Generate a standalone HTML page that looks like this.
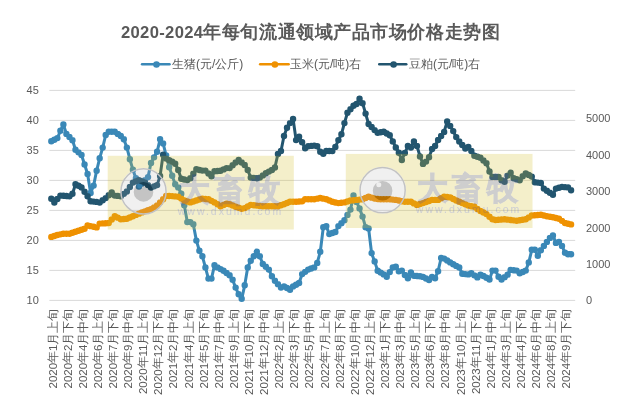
<!DOCTYPE html>
<html><head><meta charset="utf-8"><style>
html,body{margin:0;padding:0;background:#fff;width:634px;height:403px;overflow:hidden}
svg{display:block;font-family:"Liberation Sans",sans-serif}
</style></head><body>
<svg width="634" height="403" viewBox="0 0 634 403">
<rect width="634" height="403" fill="#fff"/>
<text x="121" y="37.8" font-weight="bold" fill="#595959" font-size="16.6" letter-spacing="0.33">2020-2024</text><text x="203.3" y="38" letter-spacing="0.56" font-weight="600" fill="#595959" font-size="18">年每旬流通领域产品市场价格走势图</text>
<g stroke="#d9d9d9" stroke-width="1"><line x1="49.4" x2="575.2" y1="300.4" y2="300.4"/><line x1="49.4" x2="575.2" y1="270.4" y2="270.4"/><line x1="49.4" x2="575.2" y1="240.4" y2="240.4"/><line x1="49.4" x2="575.2" y1="210.4" y2="210.4"/><line x1="49.4" x2="575.2" y1="180.4" y2="180.4"/><line x1="49.4" x2="575.2" y1="150.4" y2="150.4"/><line x1="49.4" x2="575.2" y1="120.4" y2="120.4"/><line x1="49.4" x2="575.2" y1="90.4" y2="90.4"/></g>
<g font-size="11" fill="#595959"><text x="38.8" y="300.5" dy="0.36em" text-anchor="end">10</text><text x="38.8" y="270.5" dy="0.36em" text-anchor="end">15</text><text x="38.8" y="240.5" dy="0.36em" text-anchor="end">20</text><text x="38.8" y="210.5" dy="0.36em" text-anchor="end">25</text><text x="38.8" y="180.5" dy="0.36em" text-anchor="end">30</text><text x="38.8" y="150.5" dy="0.36em" text-anchor="end">35</text><text x="38.8" y="120.5" dy="0.36em" text-anchor="end">40</text><text x="38.8" y="90.5" dy="0.36em" text-anchor="end">45</text><text x="586" y="300.5" dy="0.36em">0</text><text x="586" y="264.1" dy="0.36em">1000</text><text x="586" y="227.7" dy="0.36em">2000</text><text x="586" y="191.2" dy="0.36em">3000</text><text x="586" y="154.8" dy="0.36em">4000</text><text x="586" y="118.4" dy="0.36em">5000</text></g>
<g font-size="11.5" fill="#595959"><text transform="translate(52.5,308.5) rotate(-90)" text-anchor="end" dy="0.35em">2020年1月上旬</text><text transform="translate(67.6,308.5) rotate(-90)" text-anchor="end" dy="0.35em">2020年2月下旬</text><text transform="translate(82.7,308.5) rotate(-90)" text-anchor="end" dy="0.35em">2020年4月中旬</text><text transform="translate(97.8,308.5) rotate(-90)" text-anchor="end" dy="0.35em">2020年6月上旬</text><text transform="translate(112.9,308.5) rotate(-90)" text-anchor="end" dy="0.35em">2020年7月下旬</text><text transform="translate(128.1,308.5) rotate(-90)" text-anchor="end" dy="0.35em">2020年9月中旬</text><text transform="translate(143.2,308.5) rotate(-90)" text-anchor="end" dy="0.35em">2020年11月上旬</text><text transform="translate(158.3,308.5) rotate(-90)" text-anchor="end" dy="0.35em">2020年12月下旬</text><text transform="translate(173.4,308.5) rotate(-90)" text-anchor="end" dy="0.35em">2021年2月中旬</text><text transform="translate(188.5,308.5) rotate(-90)" text-anchor="end" dy="0.35em">2021年4月上旬</text><text transform="translate(203.6,308.5) rotate(-90)" text-anchor="end" dy="0.35em">2021年5月下旬</text><text transform="translate(218.7,308.5) rotate(-90)" text-anchor="end" dy="0.35em">2021年7月中旬</text><text transform="translate(233.8,308.5) rotate(-90)" text-anchor="end" dy="0.35em">2021年9月上旬</text><text transform="translate(248.9,308.5) rotate(-90)" text-anchor="end" dy="0.35em">2021年10月下旬</text><text transform="translate(264.0,308.5) rotate(-90)" text-anchor="end" dy="0.35em">2021年12月中旬</text><text transform="translate(279.1,308.5) rotate(-90)" text-anchor="end" dy="0.35em">2022年2月上旬</text><text transform="translate(294.3,308.5) rotate(-90)" text-anchor="end" dy="0.35em">2022年3月下旬</text><text transform="translate(309.4,308.5) rotate(-90)" text-anchor="end" dy="0.35em">2022年5月中旬</text><text transform="translate(324.5,308.5) rotate(-90)" text-anchor="end" dy="0.35em">2022年7月上旬</text><text transform="translate(339.6,308.5) rotate(-90)" text-anchor="end" dy="0.35em">2022年8月下旬</text><text transform="translate(354.7,308.5) rotate(-90)" text-anchor="end" dy="0.35em">2022年10月中旬</text><text transform="translate(369.8,308.5) rotate(-90)" text-anchor="end" dy="0.35em">2022年12月上旬</text><text transform="translate(384.9,308.5) rotate(-90)" text-anchor="end" dy="0.35em">2023年1月下旬</text><text transform="translate(400.0,308.5) rotate(-90)" text-anchor="end" dy="0.35em">2023年3月中旬</text><text transform="translate(415.1,308.5) rotate(-90)" text-anchor="end" dy="0.35em">2023年5月上旬</text><text transform="translate(430.2,308.5) rotate(-90)" text-anchor="end" dy="0.35em">2023年6月下旬</text><text transform="translate(445.4,308.5) rotate(-90)" text-anchor="end" dy="0.35em">2023年8月中旬</text><text transform="translate(460.5,308.5) rotate(-90)" text-anchor="end" dy="0.35em">2023年10月上旬</text><text transform="translate(475.6,308.5) rotate(-90)" text-anchor="end" dy="0.35em">2023年11月下旬</text><text transform="translate(490.7,308.5) rotate(-90)" text-anchor="end" dy="0.35em">2024年1月中旬</text><text transform="translate(505.8,308.5) rotate(-90)" text-anchor="end" dy="0.35em">2024年3月上旬</text><text transform="translate(520.9,308.5) rotate(-90)" text-anchor="end" dy="0.35em">2024年4月下旬</text><text transform="translate(536.0,308.5) rotate(-90)" text-anchor="end" dy="0.35em">2024年6月中旬</text><text transform="translate(551.1,308.5) rotate(-90)" text-anchor="end" dy="0.35em">2024年8月上旬</text><text transform="translate(566.2,308.5) rotate(-90)" text-anchor="end" dy="0.35em">2024年9月下旬</text></g>
<g font-size="12" fill="#595959">
<line x1="142.1" x2="169.5" y1="64.2" y2="64.2" stroke="#3a88b7" stroke-width="2.6" stroke-linecap="round"/><circle cx="156.5" cy="64.5" r="3.3" fill="#3a88b7"/>
<text x="172" y="64" dy="0.36em">生猪(元/公斤)</text>
<line x1="260.2" x2="288.6" y1="64.2" y2="64.2" stroke="#ef9100" stroke-width="2.6" stroke-linecap="round"/><circle cx="274.9" cy="64.5" r="3.3" fill="#ef9100"/>
<text x="290" y="64" dy="0.36em">玉米(元/吨)右</text>
<line x1="379.3" x2="406.2" y1="64.2" y2="64.2" stroke="#22556f" stroke-width="2.6" stroke-linecap="round"/><circle cx="393.6" cy="64.5" r="3.3" fill="#22556f"/>
<text x="409" y="64" dy="0.36em">豆粕(元/吨)右</text>
</g>
<path d="M51.3,141.3 L54.3,139.7 L57.4,138.1 L60.4,130.8 L63.4,124.4 L66.4,133.9 L69.4,137.1 L72.5,140.2 L75.5,149.7 L78.5,152.3 L81.5,155.0 L84.6,164.5 L87.6,174.0 L90.6,193.0 L93.6,185.6 L96.6,170.8 L99.7,158.2 L102.7,147.6 L105.7,135.0 L108.7,131.8 L111.7,131.8 L114.8,131.8 L117.8,133.9 L120.8,136.0 L123.8,139.2 L126.9,147.6 L129.9,159.2 L132.9,169.8 L135.9,178.2 L138.9,186.6 L142.0,183.4 L145.0,180.3 L148.0,177.1 L151.0,162.9 L154.1,157.3 L157.1,151.8 L160.1,139.2 L163.1,143.4 L166.1,155.4 L169.2,167.3 L172.2,175.8 L175.2,184.2 L178.2,187.4 L181.3,193.7 L184.3,205.3 L187.3,222.1 L190.3,222.1 L193.3,224.3 L196.4,240.6 L199.4,250.7 L202.4,256.3 L205.4,267.4 L208.4,278.6 L211.5,278.6 L214.5,265.2 L217.5,267.4 L220.5,269.1 L223.6,270.8 L226.6,273.1 L229.6,275.3 L232.6,279.7 L235.6,287.6 L238.7,294.3 L241.7,298.8 L244.7,285.3 L247.7,267.4 L250.8,260.7 L253.8,256.2 L256.8,251.8 L259.8,256.2 L262.8,264.0 L265.9,266.8 L268.9,269.6 L271.9,276.3 L274.9,280.8 L277.9,284.1 L281.0,287.5 L284.0,286.4 L287.0,288.0 L290.0,289.7 L293.1,286.4 L296.1,284.7 L299.1,283.0 L302.1,274.1 L305.1,271.9 L308.2,269.6 L311.2,268.5 L314.2,267.4 L317.2,262.9 L320.3,251.8 L323.3,227.2 L326.3,226.1 L329.3,234.1 L332.3,233.1 L335.4,232.0 L338.4,226.1 L341.4,223.1 L344.4,220.2 L347.5,214.9 L350.5,209.6 L353.5,195.4 L356.5,201.9 L359.5,208.4 L362.6,216.6 L365.6,227.2 L368.6,228.4 L371.6,253.2 L374.6,261.4 L377.7,270.8 L380.7,272.6 L383.7,274.4 L386.7,276.7 L389.8,272.1 L392.8,267.5 L395.8,266.8 L398.8,271.2 L401.8,270.6 L404.9,275.0 L407.9,278.2 L410.9,272.5 L413.9,275.7 L417.0,276.0 L420.0,276.3 L423.0,276.9 L426.0,278.5 L429.0,280.1 L432.1,276.9 L435.1,278.2 L438.1,271.2 L441.1,258.0 L444.1,258.6 L447.2,260.5 L450.2,262.4 L453.2,264.3 L456.2,265.9 L459.3,267.5 L462.3,273.8 L465.3,274.1 L468.3,274.4 L471.3,273.3 L474.4,275.4 L477.4,277.4 L480.4,274.7 L483.4,276.0 L486.5,277.8 L489.5,279.5 L492.5,270.6 L495.5,270.6 L498.5,276.7 L501.6,279.5 L504.6,277.1 L507.6,274.7 L510.6,269.9 L513.7,270.2 L516.7,270.6 L519.7,273.3 L522.7,272.0 L525.7,270.6 L528.8,262.4 L531.8,249.8 L534.8,249.8 L537.8,255.8 L540.8,250.3 L543.9,245.9 L546.9,241.9 L549.9,237.9 L552.9,235.4 L556.0,242.9 L559.0,241.9 L562.0,245.9 L565.0,252.8 L568.0,254.3 L571.1,254.3" fill="none" stroke="#3a88b7" stroke-width="3.0" stroke-linejoin="round"/><path d="M48.11,141.30a3.2,3.2 0 1,0 6.4,0a3.2,3.2 0 1,0 -6.4,0M51.13,139.70a3.2,3.2 0 1,0 6.4,0a3.2,3.2 0 1,0 -6.4,0M54.15,138.10a3.2,3.2 0 1,0 6.4,0a3.2,3.2 0 1,0 -6.4,0M57.18,130.80a3.2,3.2 0 1,0 6.4,0a3.2,3.2 0 1,0 -6.4,0M60.20,124.40a3.2,3.2 0 1,0 6.4,0a3.2,3.2 0 1,0 -6.4,0M63.22,133.90a3.2,3.2 0 1,0 6.4,0a3.2,3.2 0 1,0 -6.4,0M66.24,137.05a3.2,3.2 0 1,0 6.4,0a3.2,3.2 0 1,0 -6.4,0M69.26,140.20a3.2,3.2 0 1,0 6.4,0a3.2,3.2 0 1,0 -6.4,0M72.29,149.70a3.2,3.2 0 1,0 6.4,0a3.2,3.2 0 1,0 -6.4,0M75.31,152.35a3.2,3.2 0 1,0 6.4,0a3.2,3.2 0 1,0 -6.4,0M78.33,155.00a3.2,3.2 0 1,0 6.4,0a3.2,3.2 0 1,0 -6.4,0M81.35,164.50a3.2,3.2 0 1,0 6.4,0a3.2,3.2 0 1,0 -6.4,0M84.37,174.00a3.2,3.2 0 1,0 6.4,0a3.2,3.2 0 1,0 -6.4,0M87.39,193.00a3.2,3.2 0 1,0 6.4,0a3.2,3.2 0 1,0 -6.4,0M90.42,185.60a3.2,3.2 0 1,0 6.4,0a3.2,3.2 0 1,0 -6.4,0M93.44,170.80a3.2,3.2 0 1,0 6.4,0a3.2,3.2 0 1,0 -6.4,0M96.46,158.20a3.2,3.2 0 1,0 6.4,0a3.2,3.2 0 1,0 -6.4,0M99.48,147.60a3.2,3.2 0 1,0 6.4,0a3.2,3.2 0 1,0 -6.4,0M102.50,135.00a3.2,3.2 0 1,0 6.4,0a3.2,3.2 0 1,0 -6.4,0M105.53,131.80a3.2,3.2 0 1,0 6.4,0a3.2,3.2 0 1,0 -6.4,0M108.55,131.80a3.2,3.2 0 1,0 6.4,0a3.2,3.2 0 1,0 -6.4,0M111.57,131.80a3.2,3.2 0 1,0 6.4,0a3.2,3.2 0 1,0 -6.4,0M114.59,133.90a3.2,3.2 0 1,0 6.4,0a3.2,3.2 0 1,0 -6.4,0M117.61,136.00a3.2,3.2 0 1,0 6.4,0a3.2,3.2 0 1,0 -6.4,0M120.64,139.20a3.2,3.2 0 1,0 6.4,0a3.2,3.2 0 1,0 -6.4,0M123.66,147.60a3.2,3.2 0 1,0 6.4,0a3.2,3.2 0 1,0 -6.4,0M126.68,159.20a3.2,3.2 0 1,0 6.4,0a3.2,3.2 0 1,0 -6.4,0M129.70,169.80a3.2,3.2 0 1,0 6.4,0a3.2,3.2 0 1,0 -6.4,0M132.72,178.20a3.2,3.2 0 1,0 6.4,0a3.2,3.2 0 1,0 -6.4,0M135.74,186.60a3.2,3.2 0 1,0 6.4,0a3.2,3.2 0 1,0 -6.4,0M138.77,183.43a3.2,3.2 0 1,0 6.4,0a3.2,3.2 0 1,0 -6.4,0M141.79,180.27a3.2,3.2 0 1,0 6.4,0a3.2,3.2 0 1,0 -6.4,0M144.81,177.10a3.2,3.2 0 1,0 6.4,0a3.2,3.2 0 1,0 -6.4,0M147.83,162.90a3.2,3.2 0 1,0 6.4,0a3.2,3.2 0 1,0 -6.4,0M150.85,157.35a3.2,3.2 0 1,0 6.4,0a3.2,3.2 0 1,0 -6.4,0M153.88,151.80a3.2,3.2 0 1,0 6.4,0a3.2,3.2 0 1,0 -6.4,0M156.90,139.20a3.2,3.2 0 1,0 6.4,0a3.2,3.2 0 1,0 -6.4,0M159.92,143.40a3.2,3.2 0 1,0 6.4,0a3.2,3.2 0 1,0 -6.4,0M162.94,155.35a3.2,3.2 0 1,0 6.4,0a3.2,3.2 0 1,0 -6.4,0M165.96,167.30a3.2,3.2 0 1,0 6.4,0a3.2,3.2 0 1,0 -6.4,0M168.98,175.80a3.2,3.2 0 1,0 6.4,0a3.2,3.2 0 1,0 -6.4,0M172.01,184.20a3.2,3.2 0 1,0 6.4,0a3.2,3.2 0 1,0 -6.4,0M175.03,187.40a3.2,3.2 0 1,0 6.4,0a3.2,3.2 0 1,0 -6.4,0M178.05,193.70a3.2,3.2 0 1,0 6.4,0a3.2,3.2 0 1,0 -6.4,0M181.07,205.30a3.2,3.2 0 1,0 6.4,0a3.2,3.2 0 1,0 -6.4,0M184.09,222.10a3.2,3.2 0 1,0 6.4,0a3.2,3.2 0 1,0 -6.4,0M187.12,222.10a3.2,3.2 0 1,0 6.4,0a3.2,3.2 0 1,0 -6.4,0M190.14,224.30a3.2,3.2 0 1,0 6.4,0a3.2,3.2 0 1,0 -6.4,0M193.16,240.60a3.2,3.2 0 1,0 6.4,0a3.2,3.2 0 1,0 -6.4,0M196.18,250.70a3.2,3.2 0 1,0 6.4,0a3.2,3.2 0 1,0 -6.4,0M199.20,256.30a3.2,3.2 0 1,0 6.4,0a3.2,3.2 0 1,0 -6.4,0M202.22,267.40a3.2,3.2 0 1,0 6.4,0a3.2,3.2 0 1,0 -6.4,0M205.25,278.60a3.2,3.2 0 1,0 6.4,0a3.2,3.2 0 1,0 -6.4,0M208.27,278.60a3.2,3.2 0 1,0 6.4,0a3.2,3.2 0 1,0 -6.4,0M211.29,265.20a3.2,3.2 0 1,0 6.4,0a3.2,3.2 0 1,0 -6.4,0M214.31,267.40a3.2,3.2 0 1,0 6.4,0a3.2,3.2 0 1,0 -6.4,0M217.33,269.10a3.2,3.2 0 1,0 6.4,0a3.2,3.2 0 1,0 -6.4,0M220.36,270.80a3.2,3.2 0 1,0 6.4,0a3.2,3.2 0 1,0 -6.4,0M223.38,273.05a3.2,3.2 0 1,0 6.4,0a3.2,3.2 0 1,0 -6.4,0M226.40,275.30a3.2,3.2 0 1,0 6.4,0a3.2,3.2 0 1,0 -6.4,0M229.42,279.70a3.2,3.2 0 1,0 6.4,0a3.2,3.2 0 1,0 -6.4,0M232.44,287.60a3.2,3.2 0 1,0 6.4,0a3.2,3.2 0 1,0 -6.4,0M235.46,294.30a3.2,3.2 0 1,0 6.4,0a3.2,3.2 0 1,0 -6.4,0M238.49,298.80a3.2,3.2 0 1,0 6.4,0a3.2,3.2 0 1,0 -6.4,0M241.51,285.30a3.2,3.2 0 1,0 6.4,0a3.2,3.2 0 1,0 -6.4,0M244.53,267.40a3.2,3.2 0 1,0 6.4,0a3.2,3.2 0 1,0 -6.4,0M247.55,260.70a3.2,3.2 0 1,0 6.4,0a3.2,3.2 0 1,0 -6.4,0M250.57,256.25a3.2,3.2 0 1,0 6.4,0a3.2,3.2 0 1,0 -6.4,0M253.60,251.80a3.2,3.2 0 1,0 6.4,0a3.2,3.2 0 1,0 -6.4,0M256.62,256.20a3.2,3.2 0 1,0 6.4,0a3.2,3.2 0 1,0 -6.4,0M259.64,264.00a3.2,3.2 0 1,0 6.4,0a3.2,3.2 0 1,0 -6.4,0M262.66,266.80a3.2,3.2 0 1,0 6.4,0a3.2,3.2 0 1,0 -6.4,0M265.68,269.60a3.2,3.2 0 1,0 6.4,0a3.2,3.2 0 1,0 -6.4,0M268.71,276.30a3.2,3.2 0 1,0 6.4,0a3.2,3.2 0 1,0 -6.4,0M271.73,280.80a3.2,3.2 0 1,0 6.4,0a3.2,3.2 0 1,0 -6.4,0M274.75,284.15a3.2,3.2 0 1,0 6.4,0a3.2,3.2 0 1,0 -6.4,0M277.77,287.50a3.2,3.2 0 1,0 6.4,0a3.2,3.2 0 1,0 -6.4,0M280.79,286.40a3.2,3.2 0 1,0 6.4,0a3.2,3.2 0 1,0 -6.4,0M283.81,288.05a3.2,3.2 0 1,0 6.4,0a3.2,3.2 0 1,0 -6.4,0M286.84,289.70a3.2,3.2 0 1,0 6.4,0a3.2,3.2 0 1,0 -6.4,0M289.86,286.40a3.2,3.2 0 1,0 6.4,0a3.2,3.2 0 1,0 -6.4,0M292.88,284.70a3.2,3.2 0 1,0 6.4,0a3.2,3.2 0 1,0 -6.4,0M295.90,283.00a3.2,3.2 0 1,0 6.4,0a3.2,3.2 0 1,0 -6.4,0M298.92,274.10a3.2,3.2 0 1,0 6.4,0a3.2,3.2 0 1,0 -6.4,0M301.95,271.85a3.2,3.2 0 1,0 6.4,0a3.2,3.2 0 1,0 -6.4,0M304.97,269.60a3.2,3.2 0 1,0 6.4,0a3.2,3.2 0 1,0 -6.4,0M307.99,268.50a3.2,3.2 0 1,0 6.4,0a3.2,3.2 0 1,0 -6.4,0M311.01,267.40a3.2,3.2 0 1,0 6.4,0a3.2,3.2 0 1,0 -6.4,0M314.03,262.90a3.2,3.2 0 1,0 6.4,0a3.2,3.2 0 1,0 -6.4,0M317.05,251.80a3.2,3.2 0 1,0 6.4,0a3.2,3.2 0 1,0 -6.4,0M320.08,227.20a3.2,3.2 0 1,0 6.4,0a3.2,3.2 0 1,0 -6.4,0M323.10,226.10a3.2,3.2 0 1,0 6.4,0a3.2,3.2 0 1,0 -6.4,0M326.12,234.10a3.2,3.2 0 1,0 6.4,0a3.2,3.2 0 1,0 -6.4,0M329.14,233.05a3.2,3.2 0 1,0 6.4,0a3.2,3.2 0 1,0 -6.4,0M332.16,232.00a3.2,3.2 0 1,0 6.4,0a3.2,3.2 0 1,0 -6.4,0M335.19,226.10a3.2,3.2 0 1,0 6.4,0a3.2,3.2 0 1,0 -6.4,0M338.21,223.15a3.2,3.2 0 1,0 6.4,0a3.2,3.2 0 1,0 -6.4,0M341.23,220.20a3.2,3.2 0 1,0 6.4,0a3.2,3.2 0 1,0 -6.4,0M344.25,214.90a3.2,3.2 0 1,0 6.4,0a3.2,3.2 0 1,0 -6.4,0M347.27,209.60a3.2,3.2 0 1,0 6.4,0a3.2,3.2 0 1,0 -6.4,0M350.29,195.40a3.2,3.2 0 1,0 6.4,0a3.2,3.2 0 1,0 -6.4,0M353.32,201.90a3.2,3.2 0 1,0 6.4,0a3.2,3.2 0 1,0 -6.4,0M356.34,208.40a3.2,3.2 0 1,0 6.4,0a3.2,3.2 0 1,0 -6.4,0M359.36,216.60a3.2,3.2 0 1,0 6.4,0a3.2,3.2 0 1,0 -6.4,0M362.38,227.20a3.2,3.2 0 1,0 6.4,0a3.2,3.2 0 1,0 -6.4,0M365.40,228.40a3.2,3.2 0 1,0 6.4,0a3.2,3.2 0 1,0 -6.4,0M368.43,253.20a3.2,3.2 0 1,0 6.4,0a3.2,3.2 0 1,0 -6.4,0M371.45,261.40a3.2,3.2 0 1,0 6.4,0a3.2,3.2 0 1,0 -6.4,0M374.47,270.80a3.2,3.2 0 1,0 6.4,0a3.2,3.2 0 1,0 -6.4,0M377.49,272.60a3.2,3.2 0 1,0 6.4,0a3.2,3.2 0 1,0 -6.4,0M380.51,274.40a3.2,3.2 0 1,0 6.4,0a3.2,3.2 0 1,0 -6.4,0M383.54,276.70a3.2,3.2 0 1,0 6.4,0a3.2,3.2 0 1,0 -6.4,0M386.56,272.10a3.2,3.2 0 1,0 6.4,0a3.2,3.2 0 1,0 -6.4,0M389.58,267.50a3.2,3.2 0 1,0 6.4,0a3.2,3.2 0 1,0 -6.4,0M392.60,266.80a3.2,3.2 0 1,0 6.4,0a3.2,3.2 0 1,0 -6.4,0M395.62,271.20a3.2,3.2 0 1,0 6.4,0a3.2,3.2 0 1,0 -6.4,0M398.64,270.60a3.2,3.2 0 1,0 6.4,0a3.2,3.2 0 1,0 -6.4,0M401.67,275.00a3.2,3.2 0 1,0 6.4,0a3.2,3.2 0 1,0 -6.4,0M404.69,278.20a3.2,3.2 0 1,0 6.4,0a3.2,3.2 0 1,0 -6.4,0M407.71,272.50a3.2,3.2 0 1,0 6.4,0a3.2,3.2 0 1,0 -6.4,0M410.73,275.70a3.2,3.2 0 1,0 6.4,0a3.2,3.2 0 1,0 -6.4,0M413.75,276.00a3.2,3.2 0 1,0 6.4,0a3.2,3.2 0 1,0 -6.4,0M416.78,276.30a3.2,3.2 0 1,0 6.4,0a3.2,3.2 0 1,0 -6.4,0M419.80,276.90a3.2,3.2 0 1,0 6.4,0a3.2,3.2 0 1,0 -6.4,0M422.82,278.50a3.2,3.2 0 1,0 6.4,0a3.2,3.2 0 1,0 -6.4,0M425.84,280.10a3.2,3.2 0 1,0 6.4,0a3.2,3.2 0 1,0 -6.4,0M428.86,276.90a3.2,3.2 0 1,0 6.4,0a3.2,3.2 0 1,0 -6.4,0M431.88,278.20a3.2,3.2 0 1,0 6.4,0a3.2,3.2 0 1,0 -6.4,0M434.91,271.20a3.2,3.2 0 1,0 6.4,0a3.2,3.2 0 1,0 -6.4,0M437.93,258.00a3.2,3.2 0 1,0 6.4,0a3.2,3.2 0 1,0 -6.4,0M440.95,258.60a3.2,3.2 0 1,0 6.4,0a3.2,3.2 0 1,0 -6.4,0M443.97,260.50a3.2,3.2 0 1,0 6.4,0a3.2,3.2 0 1,0 -6.4,0M446.99,262.40a3.2,3.2 0 1,0 6.4,0a3.2,3.2 0 1,0 -6.4,0M450.02,264.30a3.2,3.2 0 1,0 6.4,0a3.2,3.2 0 1,0 -6.4,0M453.04,265.90a3.2,3.2 0 1,0 6.4,0a3.2,3.2 0 1,0 -6.4,0M456.06,267.50a3.2,3.2 0 1,0 6.4,0a3.2,3.2 0 1,0 -6.4,0M459.08,273.80a3.2,3.2 0 1,0 6.4,0a3.2,3.2 0 1,0 -6.4,0M462.10,274.10a3.2,3.2 0 1,0 6.4,0a3.2,3.2 0 1,0 -6.4,0M465.12,274.40a3.2,3.2 0 1,0 6.4,0a3.2,3.2 0 1,0 -6.4,0M468.15,273.30a3.2,3.2 0 1,0 6.4,0a3.2,3.2 0 1,0 -6.4,0M471.17,275.35a3.2,3.2 0 1,0 6.4,0a3.2,3.2 0 1,0 -6.4,0M474.19,277.40a3.2,3.2 0 1,0 6.4,0a3.2,3.2 0 1,0 -6.4,0M477.21,274.70a3.2,3.2 0 1,0 6.4,0a3.2,3.2 0 1,0 -6.4,0M480.23,276.00a3.2,3.2 0 1,0 6.4,0a3.2,3.2 0 1,0 -6.4,0M483.26,277.75a3.2,3.2 0 1,0 6.4,0a3.2,3.2 0 1,0 -6.4,0M486.28,279.50a3.2,3.2 0 1,0 6.4,0a3.2,3.2 0 1,0 -6.4,0M489.30,270.60a3.2,3.2 0 1,0 6.4,0a3.2,3.2 0 1,0 -6.4,0M492.32,270.60a3.2,3.2 0 1,0 6.4,0a3.2,3.2 0 1,0 -6.4,0M495.34,276.70a3.2,3.2 0 1,0 6.4,0a3.2,3.2 0 1,0 -6.4,0M498.36,279.50a3.2,3.2 0 1,0 6.4,0a3.2,3.2 0 1,0 -6.4,0M501.39,277.10a3.2,3.2 0 1,0 6.4,0a3.2,3.2 0 1,0 -6.4,0M504.41,274.70a3.2,3.2 0 1,0 6.4,0a3.2,3.2 0 1,0 -6.4,0M507.43,269.90a3.2,3.2 0 1,0 6.4,0a3.2,3.2 0 1,0 -6.4,0M510.45,270.25a3.2,3.2 0 1,0 6.4,0a3.2,3.2 0 1,0 -6.4,0M513.47,270.60a3.2,3.2 0 1,0 6.4,0a3.2,3.2 0 1,0 -6.4,0M516.50,273.30a3.2,3.2 0 1,0 6.4,0a3.2,3.2 0 1,0 -6.4,0M519.52,271.95a3.2,3.2 0 1,0 6.4,0a3.2,3.2 0 1,0 -6.4,0M522.54,270.60a3.2,3.2 0 1,0 6.4,0a3.2,3.2 0 1,0 -6.4,0M525.56,262.40a3.2,3.2 0 1,0 6.4,0a3.2,3.2 0 1,0 -6.4,0M528.58,249.80a3.2,3.2 0 1,0 6.4,0a3.2,3.2 0 1,0 -6.4,0M531.61,249.80a3.2,3.2 0 1,0 6.4,0a3.2,3.2 0 1,0 -6.4,0M534.63,255.80a3.2,3.2 0 1,0 6.4,0a3.2,3.2 0 1,0 -6.4,0M537.65,250.30a3.2,3.2 0 1,0 6.4,0a3.2,3.2 0 1,0 -6.4,0M540.67,245.90a3.2,3.2 0 1,0 6.4,0a3.2,3.2 0 1,0 -6.4,0M543.69,241.90a3.2,3.2 0 1,0 6.4,0a3.2,3.2 0 1,0 -6.4,0M546.71,237.90a3.2,3.2 0 1,0 6.4,0a3.2,3.2 0 1,0 -6.4,0M549.74,235.40a3.2,3.2 0 1,0 6.4,0a3.2,3.2 0 1,0 -6.4,0M552.76,242.90a3.2,3.2 0 1,0 6.4,0a3.2,3.2 0 1,0 -6.4,0M555.78,241.90a3.2,3.2 0 1,0 6.4,0a3.2,3.2 0 1,0 -6.4,0M558.80,245.90a3.2,3.2 0 1,0 6.4,0a3.2,3.2 0 1,0 -6.4,0M561.82,252.80a3.2,3.2 0 1,0 6.4,0a3.2,3.2 0 1,0 -6.4,0M564.85,254.30a3.2,3.2 0 1,0 6.4,0a3.2,3.2 0 1,0 -6.4,0M567.87,254.30a3.2,3.2 0 1,0 6.4,0a3.2,3.2 0 1,0 -6.4,0" fill="#3a88b7"/><path d="M51.3,236.9 L54.3,236.0 L57.4,235.0 L60.4,234.3 L63.4,233.7 L66.4,233.7 L69.4,233.7 L72.5,232.7 L75.5,231.8 L78.5,230.8 L81.5,229.7 L84.6,228.7 L87.6,225.5 L90.6,226.1 L93.6,226.8 L96.6,227.4 L99.7,223.6 L102.7,223.4 L105.7,223.2 L108.7,223.0 L111.7,219.5 L114.8,216.1 L117.8,217.7 L120.8,219.2 L123.8,218.9 L126.9,218.7 L129.9,217.4 L132.9,216.2 L135.9,214.9 L138.9,213.7 L142.0,212.4 L145.0,211.4 L148.0,210.3 L151.0,209.3 L154.1,207.4 L157.1,205.5 L160.1,202.3 L163.1,199.2 L166.1,196.0 L169.2,196.0 L172.2,196.1 L175.2,196.4 L178.2,196.7 L181.3,198.6 L184.3,200.5 L187.3,201.5 L190.3,202.4 L193.3,201.5 L196.4,200.5 L199.4,199.5 L202.4,198.6 L205.4,198.9 L208.4,199.3 L211.5,200.8 L214.5,202.4 L217.5,204.3 L220.5,206.2 L223.6,204.9 L226.6,203.7 L229.6,204.3 L232.6,205.5 L235.6,206.8 L238.7,207.7 L241.7,208.7 L244.7,208.1 L247.7,206.5 L250.8,204.9 L253.8,205.2 L256.8,205.6 L259.8,205.9 L262.8,206.2 L265.9,206.2 L268.9,206.2 L271.9,206.2 L274.9,206.2 L277.9,206.2 L281.0,205.2 L284.0,204.3 L287.0,203.0 L290.0,201.8 L293.1,201.8 L296.1,201.8 L299.1,201.5 L302.1,201.2 L305.1,199.3 L308.2,199.3 L311.2,199.3 L314.2,199.3 L317.2,198.7 L320.3,198.0 L323.3,198.7 L326.3,199.3 L329.3,200.5 L332.3,201.8 L335.4,202.4 L338.4,203.1 L341.4,202.8 L344.4,202.4 L347.5,201.5 L350.5,200.5 L353.5,200.2 L356.5,199.9 L359.5,199.6 L362.6,199.3 L365.6,198.0 L368.6,196.7 L371.6,197.7 L374.6,198.6 L377.7,198.9 L380.7,199.3 L383.7,199.3 L386.7,199.3 L389.8,199.3 L392.8,199.6 L395.8,199.9 L398.8,200.5 L401.8,201.2 L404.9,201.8 L407.9,201.8 L410.9,201.8 L413.9,203.3 L417.0,204.9 L420.0,204.0 L423.0,203.1 L426.0,202.0 L429.0,201.0 L432.1,199.9 L435.1,199.9 L438.1,199.9 L441.1,198.3 L444.1,196.7 L447.2,197.0 L450.2,197.4 L453.2,199.0 L456.2,200.5 L459.3,201.8 L462.3,203.1 L465.3,204.3 L468.3,205.6 L471.3,206.2 L474.4,206.8 L477.4,208.9 L480.4,211.0 L483.4,212.5 L486.5,214.1 L489.5,216.7 L492.5,219.3 L495.5,220.0 L498.5,219.8 L501.6,219.5 L504.6,219.3 L507.6,219.7 L510.6,220.0 L513.7,220.3 L516.7,220.7 L519.7,220.2 L522.7,219.8 L525.7,219.3 L528.8,217.4 L531.8,215.5 L534.8,215.3 L537.8,215.0 L540.8,214.8 L543.9,215.5 L546.9,216.2 L549.9,216.7 L552.9,217.3 L556.0,218.0 L559.0,218.7 L562.0,220.8 L565.0,223.0 L568.0,223.7 L571.1,224.4" fill="none" stroke="#ef9100" stroke-width="3.0" stroke-linejoin="round"/><path d="M48.11,236.90a3.2,3.2 0 1,0 6.4,0a3.2,3.2 0 1,0 -6.4,0M51.13,235.95a3.2,3.2 0 1,0 6.4,0a3.2,3.2 0 1,0 -6.4,0M54.15,235.00a3.2,3.2 0 1,0 6.4,0a3.2,3.2 0 1,0 -6.4,0M57.18,234.35a3.2,3.2 0 1,0 6.4,0a3.2,3.2 0 1,0 -6.4,0M60.20,233.70a3.2,3.2 0 1,0 6.4,0a3.2,3.2 0 1,0 -6.4,0M63.22,233.70a3.2,3.2 0 1,0 6.4,0a3.2,3.2 0 1,0 -6.4,0M66.24,233.70a3.2,3.2 0 1,0 6.4,0a3.2,3.2 0 1,0 -6.4,0M69.26,232.75a3.2,3.2 0 1,0 6.4,0a3.2,3.2 0 1,0 -6.4,0M72.29,231.80a3.2,3.2 0 1,0 6.4,0a3.2,3.2 0 1,0 -6.4,0M75.31,230.77a3.2,3.2 0 1,0 6.4,0a3.2,3.2 0 1,0 -6.4,0M78.33,229.73a3.2,3.2 0 1,0 6.4,0a3.2,3.2 0 1,0 -6.4,0M81.35,228.70a3.2,3.2 0 1,0 6.4,0a3.2,3.2 0 1,0 -6.4,0M84.37,225.50a3.2,3.2 0 1,0 6.4,0a3.2,3.2 0 1,0 -6.4,0M87.39,226.13a3.2,3.2 0 1,0 6.4,0a3.2,3.2 0 1,0 -6.4,0M90.42,226.77a3.2,3.2 0 1,0 6.4,0a3.2,3.2 0 1,0 -6.4,0M93.44,227.40a3.2,3.2 0 1,0 6.4,0a3.2,3.2 0 1,0 -6.4,0M96.46,223.60a3.2,3.2 0 1,0 6.4,0a3.2,3.2 0 1,0 -6.4,0M99.48,223.40a3.2,3.2 0 1,0 6.4,0a3.2,3.2 0 1,0 -6.4,0M102.50,223.20a3.2,3.2 0 1,0 6.4,0a3.2,3.2 0 1,0 -6.4,0M105.53,223.00a3.2,3.2 0 1,0 6.4,0a3.2,3.2 0 1,0 -6.4,0M108.55,219.55a3.2,3.2 0 1,0 6.4,0a3.2,3.2 0 1,0 -6.4,0M111.57,216.10a3.2,3.2 0 1,0 6.4,0a3.2,3.2 0 1,0 -6.4,0M114.59,217.65a3.2,3.2 0 1,0 6.4,0a3.2,3.2 0 1,0 -6.4,0M117.61,219.20a3.2,3.2 0 1,0 6.4,0a3.2,3.2 0 1,0 -6.4,0M120.64,218.95a3.2,3.2 0 1,0 6.4,0a3.2,3.2 0 1,0 -6.4,0M123.66,218.70a3.2,3.2 0 1,0 6.4,0a3.2,3.2 0 1,0 -6.4,0M126.68,217.43a3.2,3.2 0 1,0 6.4,0a3.2,3.2 0 1,0 -6.4,0M129.70,216.17a3.2,3.2 0 1,0 6.4,0a3.2,3.2 0 1,0 -6.4,0M132.72,214.90a3.2,3.2 0 1,0 6.4,0a3.2,3.2 0 1,0 -6.4,0M135.74,213.65a3.2,3.2 0 1,0 6.4,0a3.2,3.2 0 1,0 -6.4,0M138.77,212.40a3.2,3.2 0 1,0 6.4,0a3.2,3.2 0 1,0 -6.4,0M141.79,211.37a3.2,3.2 0 1,0 6.4,0a3.2,3.2 0 1,0 -6.4,0M144.81,210.33a3.2,3.2 0 1,0 6.4,0a3.2,3.2 0 1,0 -6.4,0M147.83,209.30a3.2,3.2 0 1,0 6.4,0a3.2,3.2 0 1,0 -6.4,0M150.85,207.40a3.2,3.2 0 1,0 6.4,0a3.2,3.2 0 1,0 -6.4,0M153.88,205.50a3.2,3.2 0 1,0 6.4,0a3.2,3.2 0 1,0 -6.4,0M156.90,202.35a3.2,3.2 0 1,0 6.4,0a3.2,3.2 0 1,0 -6.4,0M159.92,199.20a3.2,3.2 0 1,0 6.4,0a3.2,3.2 0 1,0 -6.4,0M162.94,196.00a3.2,3.2 0 1,0 6.4,0a3.2,3.2 0 1,0 -6.4,0M165.96,196.05a3.2,3.2 0 1,0 6.4,0a3.2,3.2 0 1,0 -6.4,0M168.98,196.10a3.2,3.2 0 1,0 6.4,0a3.2,3.2 0 1,0 -6.4,0M172.01,196.40a3.2,3.2 0 1,0 6.4,0a3.2,3.2 0 1,0 -6.4,0M175.03,196.70a3.2,3.2 0 1,0 6.4,0a3.2,3.2 0 1,0 -6.4,0M178.05,198.60a3.2,3.2 0 1,0 6.4,0a3.2,3.2 0 1,0 -6.4,0M181.07,200.50a3.2,3.2 0 1,0 6.4,0a3.2,3.2 0 1,0 -6.4,0M184.09,201.45a3.2,3.2 0 1,0 6.4,0a3.2,3.2 0 1,0 -6.4,0M187.12,202.40a3.2,3.2 0 1,0 6.4,0a3.2,3.2 0 1,0 -6.4,0M190.14,201.45a3.2,3.2 0 1,0 6.4,0a3.2,3.2 0 1,0 -6.4,0M193.16,200.50a3.2,3.2 0 1,0 6.4,0a3.2,3.2 0 1,0 -6.4,0M196.18,199.55a3.2,3.2 0 1,0 6.4,0a3.2,3.2 0 1,0 -6.4,0M199.20,198.60a3.2,3.2 0 1,0 6.4,0a3.2,3.2 0 1,0 -6.4,0M202.22,198.95a3.2,3.2 0 1,0 6.4,0a3.2,3.2 0 1,0 -6.4,0M205.25,199.30a3.2,3.2 0 1,0 6.4,0a3.2,3.2 0 1,0 -6.4,0M208.27,200.85a3.2,3.2 0 1,0 6.4,0a3.2,3.2 0 1,0 -6.4,0M211.29,202.40a3.2,3.2 0 1,0 6.4,0a3.2,3.2 0 1,0 -6.4,0M214.31,204.30a3.2,3.2 0 1,0 6.4,0a3.2,3.2 0 1,0 -6.4,0M217.33,206.20a3.2,3.2 0 1,0 6.4,0a3.2,3.2 0 1,0 -6.4,0M220.36,204.95a3.2,3.2 0 1,0 6.4,0a3.2,3.2 0 1,0 -6.4,0M223.38,203.70a3.2,3.2 0 1,0 6.4,0a3.2,3.2 0 1,0 -6.4,0M226.40,204.30a3.2,3.2 0 1,0 6.4,0a3.2,3.2 0 1,0 -6.4,0M229.42,205.55a3.2,3.2 0 1,0 6.4,0a3.2,3.2 0 1,0 -6.4,0M232.44,206.80a3.2,3.2 0 1,0 6.4,0a3.2,3.2 0 1,0 -6.4,0M235.46,207.75a3.2,3.2 0 1,0 6.4,0a3.2,3.2 0 1,0 -6.4,0M238.49,208.70a3.2,3.2 0 1,0 6.4,0a3.2,3.2 0 1,0 -6.4,0M241.51,208.10a3.2,3.2 0 1,0 6.4,0a3.2,3.2 0 1,0 -6.4,0M244.53,206.50a3.2,3.2 0 1,0 6.4,0a3.2,3.2 0 1,0 -6.4,0M247.55,204.90a3.2,3.2 0 1,0 6.4,0a3.2,3.2 0 1,0 -6.4,0M250.57,205.25a3.2,3.2 0 1,0 6.4,0a3.2,3.2 0 1,0 -6.4,0M253.60,205.60a3.2,3.2 0 1,0 6.4,0a3.2,3.2 0 1,0 -6.4,0M256.62,205.90a3.2,3.2 0 1,0 6.4,0a3.2,3.2 0 1,0 -6.4,0M259.64,206.20a3.2,3.2 0 1,0 6.4,0a3.2,3.2 0 1,0 -6.4,0M262.66,206.20a3.2,3.2 0 1,0 6.4,0a3.2,3.2 0 1,0 -6.4,0M265.68,206.20a3.2,3.2 0 1,0 6.4,0a3.2,3.2 0 1,0 -6.4,0M268.71,206.20a3.2,3.2 0 1,0 6.4,0a3.2,3.2 0 1,0 -6.4,0M271.73,206.20a3.2,3.2 0 1,0 6.4,0a3.2,3.2 0 1,0 -6.4,0M274.75,206.20a3.2,3.2 0 1,0 6.4,0a3.2,3.2 0 1,0 -6.4,0M277.77,205.25a3.2,3.2 0 1,0 6.4,0a3.2,3.2 0 1,0 -6.4,0M280.79,204.30a3.2,3.2 0 1,0 6.4,0a3.2,3.2 0 1,0 -6.4,0M283.81,203.05a3.2,3.2 0 1,0 6.4,0a3.2,3.2 0 1,0 -6.4,0M286.84,201.80a3.2,3.2 0 1,0 6.4,0a3.2,3.2 0 1,0 -6.4,0M289.86,201.80a3.2,3.2 0 1,0 6.4,0a3.2,3.2 0 1,0 -6.4,0M292.88,201.80a3.2,3.2 0 1,0 6.4,0a3.2,3.2 0 1,0 -6.4,0M295.90,201.50a3.2,3.2 0 1,0 6.4,0a3.2,3.2 0 1,0 -6.4,0M298.92,201.20a3.2,3.2 0 1,0 6.4,0a3.2,3.2 0 1,0 -6.4,0M301.95,199.30a3.2,3.2 0 1,0 6.4,0a3.2,3.2 0 1,0 -6.4,0M304.97,199.30a3.2,3.2 0 1,0 6.4,0a3.2,3.2 0 1,0 -6.4,0M307.99,199.30a3.2,3.2 0 1,0 6.4,0a3.2,3.2 0 1,0 -6.4,0M311.01,199.30a3.2,3.2 0 1,0 6.4,0a3.2,3.2 0 1,0 -6.4,0M314.03,198.65a3.2,3.2 0 1,0 6.4,0a3.2,3.2 0 1,0 -6.4,0M317.05,198.00a3.2,3.2 0 1,0 6.4,0a3.2,3.2 0 1,0 -6.4,0M320.08,198.65a3.2,3.2 0 1,0 6.4,0a3.2,3.2 0 1,0 -6.4,0M323.10,199.30a3.2,3.2 0 1,0 6.4,0a3.2,3.2 0 1,0 -6.4,0M326.12,200.55a3.2,3.2 0 1,0 6.4,0a3.2,3.2 0 1,0 -6.4,0M329.14,201.80a3.2,3.2 0 1,0 6.4,0a3.2,3.2 0 1,0 -6.4,0M332.16,202.45a3.2,3.2 0 1,0 6.4,0a3.2,3.2 0 1,0 -6.4,0M335.19,203.10a3.2,3.2 0 1,0 6.4,0a3.2,3.2 0 1,0 -6.4,0M338.21,202.75a3.2,3.2 0 1,0 6.4,0a3.2,3.2 0 1,0 -6.4,0M341.23,202.40a3.2,3.2 0 1,0 6.4,0a3.2,3.2 0 1,0 -6.4,0M344.25,201.45a3.2,3.2 0 1,0 6.4,0a3.2,3.2 0 1,0 -6.4,0M347.27,200.50a3.2,3.2 0 1,0 6.4,0a3.2,3.2 0 1,0 -6.4,0M350.29,200.20a3.2,3.2 0 1,0 6.4,0a3.2,3.2 0 1,0 -6.4,0M353.32,199.90a3.2,3.2 0 1,0 6.4,0a3.2,3.2 0 1,0 -6.4,0M356.34,199.60a3.2,3.2 0 1,0 6.4,0a3.2,3.2 0 1,0 -6.4,0M359.36,199.30a3.2,3.2 0 1,0 6.4,0a3.2,3.2 0 1,0 -6.4,0M362.38,198.00a3.2,3.2 0 1,0 6.4,0a3.2,3.2 0 1,0 -6.4,0M365.40,196.70a3.2,3.2 0 1,0 6.4,0a3.2,3.2 0 1,0 -6.4,0M368.43,197.65a3.2,3.2 0 1,0 6.4,0a3.2,3.2 0 1,0 -6.4,0M371.45,198.60a3.2,3.2 0 1,0 6.4,0a3.2,3.2 0 1,0 -6.4,0M374.47,198.95a3.2,3.2 0 1,0 6.4,0a3.2,3.2 0 1,0 -6.4,0M377.49,199.30a3.2,3.2 0 1,0 6.4,0a3.2,3.2 0 1,0 -6.4,0M380.51,199.30a3.2,3.2 0 1,0 6.4,0a3.2,3.2 0 1,0 -6.4,0M383.54,199.30a3.2,3.2 0 1,0 6.4,0a3.2,3.2 0 1,0 -6.4,0M386.56,199.30a3.2,3.2 0 1,0 6.4,0a3.2,3.2 0 1,0 -6.4,0M389.58,199.60a3.2,3.2 0 1,0 6.4,0a3.2,3.2 0 1,0 -6.4,0M392.60,199.90a3.2,3.2 0 1,0 6.4,0a3.2,3.2 0 1,0 -6.4,0M395.62,200.55a3.2,3.2 0 1,0 6.4,0a3.2,3.2 0 1,0 -6.4,0M398.64,201.20a3.2,3.2 0 1,0 6.4,0a3.2,3.2 0 1,0 -6.4,0M401.67,201.80a3.2,3.2 0 1,0 6.4,0a3.2,3.2 0 1,0 -6.4,0M404.69,201.80a3.2,3.2 0 1,0 6.4,0a3.2,3.2 0 1,0 -6.4,0M407.71,201.80a3.2,3.2 0 1,0 6.4,0a3.2,3.2 0 1,0 -6.4,0M410.73,203.35a3.2,3.2 0 1,0 6.4,0a3.2,3.2 0 1,0 -6.4,0M413.75,204.90a3.2,3.2 0 1,0 6.4,0a3.2,3.2 0 1,0 -6.4,0M416.78,204.00a3.2,3.2 0 1,0 6.4,0a3.2,3.2 0 1,0 -6.4,0M419.80,203.10a3.2,3.2 0 1,0 6.4,0a3.2,3.2 0 1,0 -6.4,0M422.82,202.03a3.2,3.2 0 1,0 6.4,0a3.2,3.2 0 1,0 -6.4,0M425.84,200.97a3.2,3.2 0 1,0 6.4,0a3.2,3.2 0 1,0 -6.4,0M428.86,199.90a3.2,3.2 0 1,0 6.4,0a3.2,3.2 0 1,0 -6.4,0M431.88,199.90a3.2,3.2 0 1,0 6.4,0a3.2,3.2 0 1,0 -6.4,0M434.91,199.90a3.2,3.2 0 1,0 6.4,0a3.2,3.2 0 1,0 -6.4,0M437.93,198.30a3.2,3.2 0 1,0 6.4,0a3.2,3.2 0 1,0 -6.4,0M440.95,196.70a3.2,3.2 0 1,0 6.4,0a3.2,3.2 0 1,0 -6.4,0M443.97,197.05a3.2,3.2 0 1,0 6.4,0a3.2,3.2 0 1,0 -6.4,0M446.99,197.40a3.2,3.2 0 1,0 6.4,0a3.2,3.2 0 1,0 -6.4,0M450.02,198.95a3.2,3.2 0 1,0 6.4,0a3.2,3.2 0 1,0 -6.4,0M453.04,200.50a3.2,3.2 0 1,0 6.4,0a3.2,3.2 0 1,0 -6.4,0M456.06,201.80a3.2,3.2 0 1,0 6.4,0a3.2,3.2 0 1,0 -6.4,0M459.08,203.10a3.2,3.2 0 1,0 6.4,0a3.2,3.2 0 1,0 -6.4,0M462.10,204.35a3.2,3.2 0 1,0 6.4,0a3.2,3.2 0 1,0 -6.4,0M465.12,205.60a3.2,3.2 0 1,0 6.4,0a3.2,3.2 0 1,0 -6.4,0M468.15,206.20a3.2,3.2 0 1,0 6.4,0a3.2,3.2 0 1,0 -6.4,0M471.17,206.80a3.2,3.2 0 1,0 6.4,0a3.2,3.2 0 1,0 -6.4,0M474.19,208.90a3.2,3.2 0 1,0 6.4,0a3.2,3.2 0 1,0 -6.4,0M477.21,211.00a3.2,3.2 0 1,0 6.4,0a3.2,3.2 0 1,0 -6.4,0M480.23,212.55a3.2,3.2 0 1,0 6.4,0a3.2,3.2 0 1,0 -6.4,0M483.26,214.10a3.2,3.2 0 1,0 6.4,0a3.2,3.2 0 1,0 -6.4,0M486.28,216.70a3.2,3.2 0 1,0 6.4,0a3.2,3.2 0 1,0 -6.4,0M489.30,219.30a3.2,3.2 0 1,0 6.4,0a3.2,3.2 0 1,0 -6.4,0M492.32,220.00a3.2,3.2 0 1,0 6.4,0a3.2,3.2 0 1,0 -6.4,0M495.34,219.77a3.2,3.2 0 1,0 6.4,0a3.2,3.2 0 1,0 -6.4,0M498.36,219.53a3.2,3.2 0 1,0 6.4,0a3.2,3.2 0 1,0 -6.4,0M501.39,219.30a3.2,3.2 0 1,0 6.4,0a3.2,3.2 0 1,0 -6.4,0M504.41,219.65a3.2,3.2 0 1,0 6.4,0a3.2,3.2 0 1,0 -6.4,0M507.43,220.00a3.2,3.2 0 1,0 6.4,0a3.2,3.2 0 1,0 -6.4,0M510.45,220.35a3.2,3.2 0 1,0 6.4,0a3.2,3.2 0 1,0 -6.4,0M513.47,220.70a3.2,3.2 0 1,0 6.4,0a3.2,3.2 0 1,0 -6.4,0M516.50,220.23a3.2,3.2 0 1,0 6.4,0a3.2,3.2 0 1,0 -6.4,0M519.52,219.77a3.2,3.2 0 1,0 6.4,0a3.2,3.2 0 1,0 -6.4,0M522.54,219.30a3.2,3.2 0 1,0 6.4,0a3.2,3.2 0 1,0 -6.4,0M525.56,217.40a3.2,3.2 0 1,0 6.4,0a3.2,3.2 0 1,0 -6.4,0M528.58,215.50a3.2,3.2 0 1,0 6.4,0a3.2,3.2 0 1,0 -6.4,0M531.61,215.27a3.2,3.2 0 1,0 6.4,0a3.2,3.2 0 1,0 -6.4,0M534.63,215.03a3.2,3.2 0 1,0 6.4,0a3.2,3.2 0 1,0 -6.4,0M537.65,214.80a3.2,3.2 0 1,0 6.4,0a3.2,3.2 0 1,0 -6.4,0M540.67,215.50a3.2,3.2 0 1,0 6.4,0a3.2,3.2 0 1,0 -6.4,0M543.69,216.20a3.2,3.2 0 1,0 6.4,0a3.2,3.2 0 1,0 -6.4,0M546.71,216.75a3.2,3.2 0 1,0 6.4,0a3.2,3.2 0 1,0 -6.4,0M549.74,217.30a3.2,3.2 0 1,0 6.4,0a3.2,3.2 0 1,0 -6.4,0M552.76,218.00a3.2,3.2 0 1,0 6.4,0a3.2,3.2 0 1,0 -6.4,0M555.78,218.70a3.2,3.2 0 1,0 6.4,0a3.2,3.2 0 1,0 -6.4,0M558.80,220.85a3.2,3.2 0 1,0 6.4,0a3.2,3.2 0 1,0 -6.4,0M561.82,223.00a3.2,3.2 0 1,0 6.4,0a3.2,3.2 0 1,0 -6.4,0M564.85,223.70a3.2,3.2 0 1,0 6.4,0a3.2,3.2 0 1,0 -6.4,0M567.87,224.40a3.2,3.2 0 1,0 6.4,0a3.2,3.2 0 1,0 -6.4,0" fill="#ef9100"/><path d="M51.3,198.8 L54.3,202.5 L57.4,199.1 L60.4,195.6 L63.4,195.8 L66.4,196.0 L69.4,196.2 L72.5,193.7 L75.5,184.2 L78.5,185.8 L81.5,187.4 L84.6,191.8 L87.6,196.2 L90.6,201.3 L93.6,201.6 L96.6,201.9 L99.7,202.5 L102.7,200.3 L105.7,198.1 L108.7,195.3 L111.7,192.5 L114.8,195.6 L117.8,195.9 L120.8,196.2 L123.8,193.8 L126.9,191.5 L129.9,187.1 L132.9,182.6 L135.9,181.3 L138.9,180.1 L142.0,181.3 L145.0,182.6 L148.0,185.1 L151.0,187.6 L154.1,186.3 L157.1,185.1 L160.1,175.9 L163.1,154.8 L166.1,158.6 L169.2,160.2 L172.2,161.8 L175.2,163.7 L178.2,170.0 L181.3,178.8 L184.3,179.4 L187.3,180.1 L190.3,178.2 L193.3,173.8 L196.4,169.3 L199.4,169.9 L202.4,170.6 L205.4,170.6 L208.4,173.4 L211.5,176.3 L214.5,171.3 L217.5,171.0 L220.5,170.7 L223.6,169.4 L226.6,168.1 L229.6,168.1 L232.6,165.3 L235.6,162.5 L238.7,159.9 L241.7,162.4 L244.7,165.0 L247.7,170.0 L250.8,177.6 L253.8,177.9 L256.8,178.2 L259.8,177.6 L262.8,175.4 L265.9,173.2 L268.9,171.6 L271.9,170.0 L274.9,167.5 L277.9,154.0 L281.0,151.0 L284.0,136.0 L287.0,127.8 L290.0,123.1 L293.1,119.0 L296.1,140.1 L299.1,136.7 L302.1,142.2 L305.1,148.3 L308.2,146.2 L311.2,145.9 L314.2,145.6 L317.2,146.2 L320.3,151.7 L323.3,153.7 L326.3,151.0 L329.3,151.0 L332.3,151.0 L335.4,146.9 L338.4,140.1 L341.4,134.3 L344.4,123.1 L347.5,112.7 L350.5,109.2 L353.5,105.8 L356.5,104.0 L359.5,98.8 L362.6,103.2 L365.6,113.6 L368.6,124.0 L371.6,127.0 L374.6,130.1 L377.7,132.7 L380.7,132.2 L383.7,131.8 L386.7,133.6 L389.8,135.3 L392.8,141.4 L395.8,147.5 L398.8,152.7 L401.8,160.0 L404.9,153.0 L407.9,146.0 L410.9,147.5 L413.9,141.5 L417.0,146.0 L420.0,156.4 L423.0,163.9 L426.0,161.6 L429.0,157.2 L432.1,149.0 L435.1,146.0 L438.1,140.0 L441.1,135.9 L444.1,131.9 L447.2,121.4 L450.2,125.9 L453.2,131.1 L456.2,137.1 L459.3,141.5 L462.3,145.0 L465.3,148.5 L468.3,146.9 L471.3,151.0 L474.4,155.8 L477.4,156.8 L480.4,157.8 L483.4,160.5 L486.5,163.2 L489.5,171.5 L492.5,176.9 L495.5,176.9 L498.5,176.9 L501.6,180.3 L504.6,181.7 L507.6,175.6 L510.6,172.8 L513.7,178.3 L516.7,179.3 L519.7,180.3 L522.7,176.2 L525.7,173.5 L528.8,175.1 L531.8,176.6 L534.8,182.2 L537.8,182.6 L540.8,183.0 L543.9,188.6 L546.9,190.8 L549.9,192.8 L552.9,194.7 L556.0,188.6 L559.0,187.8 L562.0,186.9 L565.0,187.2 L568.0,187.4 L571.1,190.2" fill="none" stroke="#22556f" stroke-width="3.0" stroke-linejoin="round"/><path d="M48.11,198.80a3.2,3.2 0 1,0 6.4,0a3.2,3.2 0 1,0 -6.4,0M51.13,202.50a3.2,3.2 0 1,0 6.4,0a3.2,3.2 0 1,0 -6.4,0M54.15,199.05a3.2,3.2 0 1,0 6.4,0a3.2,3.2 0 1,0 -6.4,0M57.18,195.60a3.2,3.2 0 1,0 6.4,0a3.2,3.2 0 1,0 -6.4,0M60.20,195.80a3.2,3.2 0 1,0 6.4,0a3.2,3.2 0 1,0 -6.4,0M63.22,196.00a3.2,3.2 0 1,0 6.4,0a3.2,3.2 0 1,0 -6.4,0M66.24,196.20a3.2,3.2 0 1,0 6.4,0a3.2,3.2 0 1,0 -6.4,0M69.26,193.70a3.2,3.2 0 1,0 6.4,0a3.2,3.2 0 1,0 -6.4,0M72.29,184.20a3.2,3.2 0 1,0 6.4,0a3.2,3.2 0 1,0 -6.4,0M75.31,185.80a3.2,3.2 0 1,0 6.4,0a3.2,3.2 0 1,0 -6.4,0M78.33,187.40a3.2,3.2 0 1,0 6.4,0a3.2,3.2 0 1,0 -6.4,0M81.35,191.80a3.2,3.2 0 1,0 6.4,0a3.2,3.2 0 1,0 -6.4,0M84.37,196.20a3.2,3.2 0 1,0 6.4,0a3.2,3.2 0 1,0 -6.4,0M87.39,201.30a3.2,3.2 0 1,0 6.4,0a3.2,3.2 0 1,0 -6.4,0M90.42,201.60a3.2,3.2 0 1,0 6.4,0a3.2,3.2 0 1,0 -6.4,0M93.44,201.90a3.2,3.2 0 1,0 6.4,0a3.2,3.2 0 1,0 -6.4,0M96.46,202.50a3.2,3.2 0 1,0 6.4,0a3.2,3.2 0 1,0 -6.4,0M99.48,200.30a3.2,3.2 0 1,0 6.4,0a3.2,3.2 0 1,0 -6.4,0M102.50,198.10a3.2,3.2 0 1,0 6.4,0a3.2,3.2 0 1,0 -6.4,0M105.53,195.30a3.2,3.2 0 1,0 6.4,0a3.2,3.2 0 1,0 -6.4,0M108.55,192.50a3.2,3.2 0 1,0 6.4,0a3.2,3.2 0 1,0 -6.4,0M111.57,195.60a3.2,3.2 0 1,0 6.4,0a3.2,3.2 0 1,0 -6.4,0M114.59,195.90a3.2,3.2 0 1,0 6.4,0a3.2,3.2 0 1,0 -6.4,0M117.61,196.20a3.2,3.2 0 1,0 6.4,0a3.2,3.2 0 1,0 -6.4,0M120.64,193.85a3.2,3.2 0 1,0 6.4,0a3.2,3.2 0 1,0 -6.4,0M123.66,191.50a3.2,3.2 0 1,0 6.4,0a3.2,3.2 0 1,0 -6.4,0M126.68,187.05a3.2,3.2 0 1,0 6.4,0a3.2,3.2 0 1,0 -6.4,0M129.70,182.60a3.2,3.2 0 1,0 6.4,0a3.2,3.2 0 1,0 -6.4,0M132.72,181.35a3.2,3.2 0 1,0 6.4,0a3.2,3.2 0 1,0 -6.4,0M135.74,180.10a3.2,3.2 0 1,0 6.4,0a3.2,3.2 0 1,0 -6.4,0M138.77,181.35a3.2,3.2 0 1,0 6.4,0a3.2,3.2 0 1,0 -6.4,0M141.79,182.60a3.2,3.2 0 1,0 6.4,0a3.2,3.2 0 1,0 -6.4,0M144.81,185.10a3.2,3.2 0 1,0 6.4,0a3.2,3.2 0 1,0 -6.4,0M147.83,187.60a3.2,3.2 0 1,0 6.4,0a3.2,3.2 0 1,0 -6.4,0M150.85,186.35a3.2,3.2 0 1,0 6.4,0a3.2,3.2 0 1,0 -6.4,0M153.88,185.10a3.2,3.2 0 1,0 6.4,0a3.2,3.2 0 1,0 -6.4,0M156.90,175.95a3.2,3.2 0 1,0 6.4,0a3.2,3.2 0 1,0 -6.4,0M159.92,154.80a3.2,3.2 0 1,0 6.4,0a3.2,3.2 0 1,0 -6.4,0M162.94,158.60a3.2,3.2 0 1,0 6.4,0a3.2,3.2 0 1,0 -6.4,0M165.96,160.20a3.2,3.2 0 1,0 6.4,0a3.2,3.2 0 1,0 -6.4,0M168.98,161.80a3.2,3.2 0 1,0 6.4,0a3.2,3.2 0 1,0 -6.4,0M172.01,163.70a3.2,3.2 0 1,0 6.4,0a3.2,3.2 0 1,0 -6.4,0M175.03,170.00a3.2,3.2 0 1,0 6.4,0a3.2,3.2 0 1,0 -6.4,0M178.05,178.80a3.2,3.2 0 1,0 6.4,0a3.2,3.2 0 1,0 -6.4,0M181.07,179.45a3.2,3.2 0 1,0 6.4,0a3.2,3.2 0 1,0 -6.4,0M184.09,180.10a3.2,3.2 0 1,0 6.4,0a3.2,3.2 0 1,0 -6.4,0M187.12,178.20a3.2,3.2 0 1,0 6.4,0a3.2,3.2 0 1,0 -6.4,0M190.14,173.75a3.2,3.2 0 1,0 6.4,0a3.2,3.2 0 1,0 -6.4,0M193.16,169.30a3.2,3.2 0 1,0 6.4,0a3.2,3.2 0 1,0 -6.4,0M196.18,169.95a3.2,3.2 0 1,0 6.4,0a3.2,3.2 0 1,0 -6.4,0M199.20,170.60a3.2,3.2 0 1,0 6.4,0a3.2,3.2 0 1,0 -6.4,0M202.22,170.60a3.2,3.2 0 1,0 6.4,0a3.2,3.2 0 1,0 -6.4,0M205.25,173.45a3.2,3.2 0 1,0 6.4,0a3.2,3.2 0 1,0 -6.4,0M208.27,176.30a3.2,3.2 0 1,0 6.4,0a3.2,3.2 0 1,0 -6.4,0M211.29,171.30a3.2,3.2 0 1,0 6.4,0a3.2,3.2 0 1,0 -6.4,0M214.31,171.00a3.2,3.2 0 1,0 6.4,0a3.2,3.2 0 1,0 -6.4,0M217.33,170.70a3.2,3.2 0 1,0 6.4,0a3.2,3.2 0 1,0 -6.4,0M220.36,169.40a3.2,3.2 0 1,0 6.4,0a3.2,3.2 0 1,0 -6.4,0M223.38,168.10a3.2,3.2 0 1,0 6.4,0a3.2,3.2 0 1,0 -6.4,0M226.40,168.10a3.2,3.2 0 1,0 6.4,0a3.2,3.2 0 1,0 -6.4,0M229.42,165.30a3.2,3.2 0 1,0 6.4,0a3.2,3.2 0 1,0 -6.4,0M232.44,162.50a3.2,3.2 0 1,0 6.4,0a3.2,3.2 0 1,0 -6.4,0M235.46,159.90a3.2,3.2 0 1,0 6.4,0a3.2,3.2 0 1,0 -6.4,0M238.49,162.45a3.2,3.2 0 1,0 6.4,0a3.2,3.2 0 1,0 -6.4,0M241.51,165.00a3.2,3.2 0 1,0 6.4,0a3.2,3.2 0 1,0 -6.4,0M244.53,170.00a3.2,3.2 0 1,0 6.4,0a3.2,3.2 0 1,0 -6.4,0M247.55,177.60a3.2,3.2 0 1,0 6.4,0a3.2,3.2 0 1,0 -6.4,0M250.57,177.90a3.2,3.2 0 1,0 6.4,0a3.2,3.2 0 1,0 -6.4,0M253.60,178.20a3.2,3.2 0 1,0 6.4,0a3.2,3.2 0 1,0 -6.4,0M256.62,177.60a3.2,3.2 0 1,0 6.4,0a3.2,3.2 0 1,0 -6.4,0M259.64,175.40a3.2,3.2 0 1,0 6.4,0a3.2,3.2 0 1,0 -6.4,0M262.66,173.20a3.2,3.2 0 1,0 6.4,0a3.2,3.2 0 1,0 -6.4,0M265.68,171.60a3.2,3.2 0 1,0 6.4,0a3.2,3.2 0 1,0 -6.4,0M268.71,170.00a3.2,3.2 0 1,0 6.4,0a3.2,3.2 0 1,0 -6.4,0M271.73,167.50a3.2,3.2 0 1,0 6.4,0a3.2,3.2 0 1,0 -6.4,0M274.75,154.00a3.2,3.2 0 1,0 6.4,0a3.2,3.2 0 1,0 -6.4,0M277.77,151.00a3.2,3.2 0 1,0 6.4,0a3.2,3.2 0 1,0 -6.4,0M280.79,136.00a3.2,3.2 0 1,0 6.4,0a3.2,3.2 0 1,0 -6.4,0M283.81,127.80a3.2,3.2 0 1,0 6.4,0a3.2,3.2 0 1,0 -6.4,0M286.84,123.10a3.2,3.2 0 1,0 6.4,0a3.2,3.2 0 1,0 -6.4,0M289.86,119.00a3.2,3.2 0 1,0 6.4,0a3.2,3.2 0 1,0 -6.4,0M292.88,140.10a3.2,3.2 0 1,0 6.4,0a3.2,3.2 0 1,0 -6.4,0M295.90,136.70a3.2,3.2 0 1,0 6.4,0a3.2,3.2 0 1,0 -6.4,0M298.92,142.20a3.2,3.2 0 1,0 6.4,0a3.2,3.2 0 1,0 -6.4,0M301.95,148.30a3.2,3.2 0 1,0 6.4,0a3.2,3.2 0 1,0 -6.4,0M304.97,146.20a3.2,3.2 0 1,0 6.4,0a3.2,3.2 0 1,0 -6.4,0M307.99,145.90a3.2,3.2 0 1,0 6.4,0a3.2,3.2 0 1,0 -6.4,0M311.01,145.60a3.2,3.2 0 1,0 6.4,0a3.2,3.2 0 1,0 -6.4,0M314.03,146.20a3.2,3.2 0 1,0 6.4,0a3.2,3.2 0 1,0 -6.4,0M317.05,151.70a3.2,3.2 0 1,0 6.4,0a3.2,3.2 0 1,0 -6.4,0M320.08,153.70a3.2,3.2 0 1,0 6.4,0a3.2,3.2 0 1,0 -6.4,0M323.10,151.00a3.2,3.2 0 1,0 6.4,0a3.2,3.2 0 1,0 -6.4,0M326.12,151.00a3.2,3.2 0 1,0 6.4,0a3.2,3.2 0 1,0 -6.4,0M329.14,151.00a3.2,3.2 0 1,0 6.4,0a3.2,3.2 0 1,0 -6.4,0M332.16,146.90a3.2,3.2 0 1,0 6.4,0a3.2,3.2 0 1,0 -6.4,0M335.19,140.10a3.2,3.2 0 1,0 6.4,0a3.2,3.2 0 1,0 -6.4,0M338.21,134.30a3.2,3.2 0 1,0 6.4,0a3.2,3.2 0 1,0 -6.4,0M341.23,123.10a3.2,3.2 0 1,0 6.4,0a3.2,3.2 0 1,0 -6.4,0M344.25,112.70a3.2,3.2 0 1,0 6.4,0a3.2,3.2 0 1,0 -6.4,0M347.27,109.25a3.2,3.2 0 1,0 6.4,0a3.2,3.2 0 1,0 -6.4,0M350.29,105.80a3.2,3.2 0 1,0 6.4,0a3.2,3.2 0 1,0 -6.4,0M353.32,104.00a3.2,3.2 0 1,0 6.4,0a3.2,3.2 0 1,0 -6.4,0M356.34,98.80a3.2,3.2 0 1,0 6.4,0a3.2,3.2 0 1,0 -6.4,0M359.36,103.20a3.2,3.2 0 1,0 6.4,0a3.2,3.2 0 1,0 -6.4,0M362.38,113.60a3.2,3.2 0 1,0 6.4,0a3.2,3.2 0 1,0 -6.4,0M365.40,124.00a3.2,3.2 0 1,0 6.4,0a3.2,3.2 0 1,0 -6.4,0M368.43,127.05a3.2,3.2 0 1,0 6.4,0a3.2,3.2 0 1,0 -6.4,0M371.45,130.10a3.2,3.2 0 1,0 6.4,0a3.2,3.2 0 1,0 -6.4,0M374.47,132.70a3.2,3.2 0 1,0 6.4,0a3.2,3.2 0 1,0 -6.4,0M377.49,132.25a3.2,3.2 0 1,0 6.4,0a3.2,3.2 0 1,0 -6.4,0M380.51,131.80a3.2,3.2 0 1,0 6.4,0a3.2,3.2 0 1,0 -6.4,0M383.54,133.55a3.2,3.2 0 1,0 6.4,0a3.2,3.2 0 1,0 -6.4,0M386.56,135.30a3.2,3.2 0 1,0 6.4,0a3.2,3.2 0 1,0 -6.4,0M389.58,141.40a3.2,3.2 0 1,0 6.4,0a3.2,3.2 0 1,0 -6.4,0M392.60,147.50a3.2,3.2 0 1,0 6.4,0a3.2,3.2 0 1,0 -6.4,0M395.62,152.70a3.2,3.2 0 1,0 6.4,0a3.2,3.2 0 1,0 -6.4,0M398.64,160.00a3.2,3.2 0 1,0 6.4,0a3.2,3.2 0 1,0 -6.4,0M401.67,153.00a3.2,3.2 0 1,0 6.4,0a3.2,3.2 0 1,0 -6.4,0M404.69,146.00a3.2,3.2 0 1,0 6.4,0a3.2,3.2 0 1,0 -6.4,0M407.71,147.50a3.2,3.2 0 1,0 6.4,0a3.2,3.2 0 1,0 -6.4,0M410.73,141.50a3.2,3.2 0 1,0 6.4,0a3.2,3.2 0 1,0 -6.4,0M413.75,146.00a3.2,3.2 0 1,0 6.4,0a3.2,3.2 0 1,0 -6.4,0M416.78,156.40a3.2,3.2 0 1,0 6.4,0a3.2,3.2 0 1,0 -6.4,0M419.80,163.90a3.2,3.2 0 1,0 6.4,0a3.2,3.2 0 1,0 -6.4,0M422.82,161.60a3.2,3.2 0 1,0 6.4,0a3.2,3.2 0 1,0 -6.4,0M425.84,157.20a3.2,3.2 0 1,0 6.4,0a3.2,3.2 0 1,0 -6.4,0M428.86,149.00a3.2,3.2 0 1,0 6.4,0a3.2,3.2 0 1,0 -6.4,0M431.88,146.00a3.2,3.2 0 1,0 6.4,0a3.2,3.2 0 1,0 -6.4,0M434.91,140.00a3.2,3.2 0 1,0 6.4,0a3.2,3.2 0 1,0 -6.4,0M437.93,135.95a3.2,3.2 0 1,0 6.4,0a3.2,3.2 0 1,0 -6.4,0M440.95,131.90a3.2,3.2 0 1,0 6.4,0a3.2,3.2 0 1,0 -6.4,0M443.97,121.40a3.2,3.2 0 1,0 6.4,0a3.2,3.2 0 1,0 -6.4,0M446.99,125.90a3.2,3.2 0 1,0 6.4,0a3.2,3.2 0 1,0 -6.4,0M450.02,131.10a3.2,3.2 0 1,0 6.4,0a3.2,3.2 0 1,0 -6.4,0M453.04,137.10a3.2,3.2 0 1,0 6.4,0a3.2,3.2 0 1,0 -6.4,0M456.06,141.50a3.2,3.2 0 1,0 6.4,0a3.2,3.2 0 1,0 -6.4,0M459.08,145.00a3.2,3.2 0 1,0 6.4,0a3.2,3.2 0 1,0 -6.4,0M462.10,148.50a3.2,3.2 0 1,0 6.4,0a3.2,3.2 0 1,0 -6.4,0M465.12,146.90a3.2,3.2 0 1,0 6.4,0a3.2,3.2 0 1,0 -6.4,0M468.15,151.00a3.2,3.2 0 1,0 6.4,0a3.2,3.2 0 1,0 -6.4,0M471.17,155.80a3.2,3.2 0 1,0 6.4,0a3.2,3.2 0 1,0 -6.4,0M474.19,156.80a3.2,3.2 0 1,0 6.4,0a3.2,3.2 0 1,0 -6.4,0M477.21,157.80a3.2,3.2 0 1,0 6.4,0a3.2,3.2 0 1,0 -6.4,0M480.23,160.53a3.2,3.2 0 1,0 6.4,0a3.2,3.2 0 1,0 -6.4,0M483.26,163.25a3.2,3.2 0 1,0 6.4,0a3.2,3.2 0 1,0 -6.4,0M486.28,171.50a3.2,3.2 0 1,0 6.4,0a3.2,3.2 0 1,0 -6.4,0M489.30,176.90a3.2,3.2 0 1,0 6.4,0a3.2,3.2 0 1,0 -6.4,0M492.32,176.90a3.2,3.2 0 1,0 6.4,0a3.2,3.2 0 1,0 -6.4,0M495.34,176.90a3.2,3.2 0 1,0 6.4,0a3.2,3.2 0 1,0 -6.4,0M498.36,180.30a3.2,3.2 0 1,0 6.4,0a3.2,3.2 0 1,0 -6.4,0M501.39,181.70a3.2,3.2 0 1,0 6.4,0a3.2,3.2 0 1,0 -6.4,0M504.41,175.60a3.2,3.2 0 1,0 6.4,0a3.2,3.2 0 1,0 -6.4,0M507.43,172.80a3.2,3.2 0 1,0 6.4,0a3.2,3.2 0 1,0 -6.4,0M510.45,178.30a3.2,3.2 0 1,0 6.4,0a3.2,3.2 0 1,0 -6.4,0M513.47,179.30a3.2,3.2 0 1,0 6.4,0a3.2,3.2 0 1,0 -6.4,0M516.50,180.30a3.2,3.2 0 1,0 6.4,0a3.2,3.2 0 1,0 -6.4,0M519.52,176.20a3.2,3.2 0 1,0 6.4,0a3.2,3.2 0 1,0 -6.4,0M522.54,173.50a3.2,3.2 0 1,0 6.4,0a3.2,3.2 0 1,0 -6.4,0M525.56,175.05a3.2,3.2 0 1,0 6.4,0a3.2,3.2 0 1,0 -6.4,0M528.58,176.60a3.2,3.2 0 1,0 6.4,0a3.2,3.2 0 1,0 -6.4,0M531.61,182.20a3.2,3.2 0 1,0 6.4,0a3.2,3.2 0 1,0 -6.4,0M534.63,182.60a3.2,3.2 0 1,0 6.4,0a3.2,3.2 0 1,0 -6.4,0M537.65,183.00a3.2,3.2 0 1,0 6.4,0a3.2,3.2 0 1,0 -6.4,0M540.67,188.60a3.2,3.2 0 1,0 6.4,0a3.2,3.2 0 1,0 -6.4,0M543.69,190.80a3.2,3.2 0 1,0 6.4,0a3.2,3.2 0 1,0 -6.4,0M546.71,192.75a3.2,3.2 0 1,0 6.4,0a3.2,3.2 0 1,0 -6.4,0M549.74,194.70a3.2,3.2 0 1,0 6.4,0a3.2,3.2 0 1,0 -6.4,0M552.76,188.60a3.2,3.2 0 1,0 6.4,0a3.2,3.2 0 1,0 -6.4,0M555.78,187.75a3.2,3.2 0 1,0 6.4,0a3.2,3.2 0 1,0 -6.4,0M558.80,186.90a3.2,3.2 0 1,0 6.4,0a3.2,3.2 0 1,0 -6.4,0M561.82,187.15a3.2,3.2 0 1,0 6.4,0a3.2,3.2 0 1,0 -6.4,0M564.85,187.40a3.2,3.2 0 1,0 6.4,0a3.2,3.2 0 1,0 -6.4,0M567.87,190.20a3.2,3.2 0 1,0 6.4,0a3.2,3.2 0 1,0 -6.4,0" fill="#22556f"/>
<g transform="translate(107.7,155.8)">
<mask id="m1" maskUnits="userSpaceOnUse" x="-5" y="-5" width="196.1" height="83.7"><rect x="-5" y="-5" width="196.1" height="83.7" fill="#fff"/><circle cx="35.8" cy="35.6" r="23.4" fill="#000"/><g fill="#000" stroke="#000"><text x="71" y="45.5" font-size="31" font-weight="bold" letter-spacing="4" stroke-width="0.9">大畜牧</text><text x="70" y="59.3" font-size="10.5" stroke-width="0.15" textLength="103.5" lengthAdjust="spacing">www.dxumu.com</text></g></mask>
<rect x="0" y="0" width="186.1" height="73.7" fill="#d2bf2a" fill-opacity="0.25" mask="url(#m1)"/>
<circle cx="35.8" cy="35.6" r="22.6" fill="#eeeeee" style="mix-blend-mode:multiply"/>
<path d="M13.199999999999996,35.6a22.6,22.6 0 1,0 45.2,0a22.6,22.6 0 1,0 -45.2,0Z M25.999999999999996,36.1a9.8,9.8 0 1,0 19.6,0a9.8,9.8 0 1,0 -19.6,0Z" fill-rule="evenodd" fill="#fff" fill-opacity="0.13"/>
<circle cx="35.8" cy="35.6" r="22.6" fill="none" stroke="#c2c2c2" stroke-width="1.5"/>
<path d="M25.999999999999996,36.1a9.8,9.8 0 1,0 19.6,0a9.8,9.8 0 1,0 -19.6,0Z M29.499999999999996,30.1a2.5,2.5 0 1,0 5,0a2.5,2.5 0 1,0 -5,0Z" fill-rule="evenodd" fill="#d2d2d2" style="mix-blend-mode:multiply"/>
<g fill="#7a7a7a" stroke="#7a7a7a" opacity="0.36"><text x="71" y="45.5" font-size="31" font-weight="bold" letter-spacing="4" stroke-width="0.9">大畜牧</text><text x="70" y="59.3" font-size="10.5" stroke-width="0.15" textLength="103.5" lengthAdjust="spacing">www.dxumu.com</text></g>
</g>
<g transform="translate(345.8,153.9)">
<mask id="m2" maskUnits="userSpaceOnUse" x="-5" y="-5" width="196.7" height="84.1"><rect x="-5" y="-5" width="196.7" height="84.1" fill="#fff"/><circle cx="36.8" cy="36.300000000000004" r="23.4" fill="#000"/><g fill="#000" stroke="#000"><text x="71" y="45.5" font-size="31" font-weight="bold" letter-spacing="4" stroke-width="0.9">大畜牧</text><text x="70" y="59.3" font-size="10.5" stroke-width="0.15" textLength="103.5" lengthAdjust="spacing">www.dxumu.com</text></g></mask>
<rect x="0" y="0" width="186.7" height="74.1" fill="#d2bf2a" fill-opacity="0.25" mask="url(#m2)"/>
<circle cx="36.8" cy="36.300000000000004" r="22.6" fill="#eeeeee" style="mix-blend-mode:multiply"/>
<path d="M14.199999999999996,36.300000000000004a22.6,22.6 0 1,0 45.2,0a22.6,22.6 0 1,0 -45.2,0Z M26.999999999999996,36.800000000000004a9.8,9.8 0 1,0 19.6,0a9.8,9.8 0 1,0 -19.6,0Z" fill-rule="evenodd" fill="#fff" fill-opacity="0.13"/>
<circle cx="36.8" cy="36.300000000000004" r="22.6" fill="none" stroke="#c2c2c2" stroke-width="1.5"/>
<path d="M26.999999999999996,36.800000000000004a9.8,9.8 0 1,0 19.6,0a9.8,9.8 0 1,0 -19.6,0Z M30.499999999999996,30.800000000000004a2.5,2.5 0 1,0 5,0a2.5,2.5 0 1,0 -5,0Z" fill-rule="evenodd" fill="#d2d2d2" style="mix-blend-mode:multiply"/>
<g fill="#7a7a7a" stroke="#7a7a7a" opacity="0.36"><text x="71" y="45.5" font-size="31" font-weight="bold" letter-spacing="4" stroke-width="0.9">大畜牧</text><text x="70" y="59.3" font-size="10.5" stroke-width="0.15" textLength="103.5" lengthAdjust="spacing">www.dxumu.com</text></g>
</g>
</svg>
</body></html>
